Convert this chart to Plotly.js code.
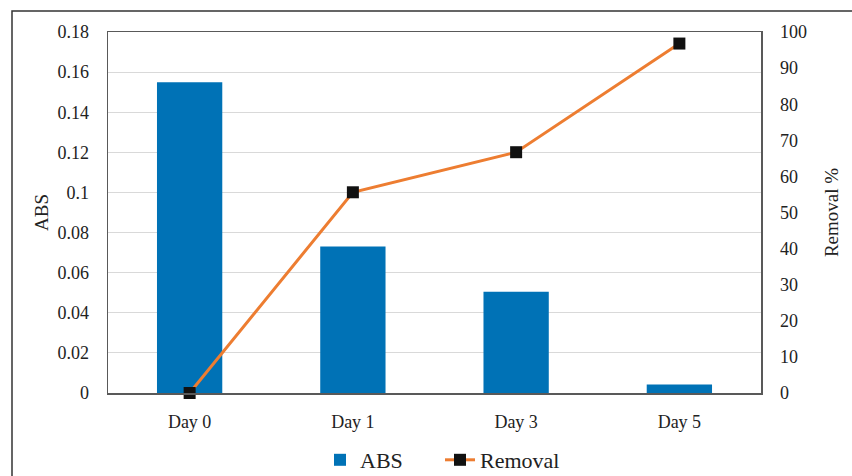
<!DOCTYPE html>
<html>
<head>
<meta charset="utf-8">
<script src="https://cdn.plot.ly/plotly-3.0.1.min.js"></script>
<style>html,body{margin:0;padding:0;background:#fff;}#chart{width:852px;height:476px;}</style>
</head>
<body>
<div id="chart"></div>
<script>
const categories = ["Day 0", "Day 1", "Day 3", "Day 5"];
const absValues = [0.155, 0.073, 0.0505, 0.0043];
const removalValues = [0, 55.6, 66.7, 96.8];
const leftTicks = [0, 0.02, 0.04, 0.06, 0.08, 0.1, 0.12, 0.14, 0.16, 0.18];
const leftTickText = ["0", "0.02", "0.04", "0.06", "0.08", "0.1", "0.12", "0.14", "0.16", "0.18"];
const rightTicks = [0, 10, 20, 30, 40, 50, 60, 70, 80, 90, 100];

const W = 852, H = 476;
const M = {l: 108, r: 91, t: 32, b: 83, autoexpand: false};
const pw = W - M.l - M.r, ph = H - M.t - M.b;
const px = x => (x - M.l) / pw;
const py = y => (H - M.b - y) / ph;

const font = "'Liberation Serif', 'Times New Roman', serif";

const traces = [
  {type: "bar", name: "ABS", x: categories, y: absValues, width: 0.4,
   marker: {color: "#0072B6"}, yaxis: "y"},
  {type: "scatter", mode: "lines+markers", name: "Removal", x: categories, y: removalValues,
   line: {color: "#ED7D31", width: 3}, marker: {color: "#111111", symbol: "square", size: 12},
   yaxis: "y2", cliponaxis: false}
];

const layout = {
  width: W, height: H,
  margin: M,
  paper_bgcolor: "#fff", plot_bgcolor: "#fff",
  font: {family: font, color: "#222", size: 17},
  showlegend: true,
  legend: {orientation: "h", x: px(440), xanchor: "center", y: py(460), yanchor: "middle",
           font: {family: font, size: 22, color: "#222"}, traceorder: "normal", entrywidth: 75},
  xaxis: {type: "category", showgrid: false, ticks: "", showline: true, linecolor: "#595959", linewidth: 1.5,
          mirror: true, tickfont: {family: font, size: 18}, ticklabelstandoff: 12, automargin: false},
  yaxis: {range: [0, 0.18], tickvals: leftTicks, ticktext: leftTickText, showgrid: true, gridcolor: "#d9d9d9",
          zeroline: false, showline: true, linecolor: "#595959", linewidth: 1.5, ticks: "",
          tickfont: {family: font, size: 18}, ticklabelstandoff: 14, automargin: false,
          title: {text: "ABS", font: {family: font, size: 19}, standoff: 4}},
  yaxis2: {range: [0, 100], tickvals: rightTicks, overlaying: "y", side: "right", showgrid: false,
           zeroline: false, showline: true, linecolor: "#595959", linewidth: 1.5, ticks: "",
           tickfont: {family: font, size: 18}, ticklabelstandoff: 14, automargin: false,
           title: {text: "Removal %", font: {family: font, size: 19}, standoff: 18}},
  shapes: [
    {type: "rect", xref: "paper", yref: "paper", x0: px(12), x1: px(860), y0: py(11), y1: py(490),
     line: {color: "#333", width: 1.5}, fillcolor: "rgba(0,0,0,0)", layer: "below"}
  ]
};

Plotly.newPlot("chart", traces, layout, {displayModeBar: false, staticPlot: true});
</script>
</body>
</html>
